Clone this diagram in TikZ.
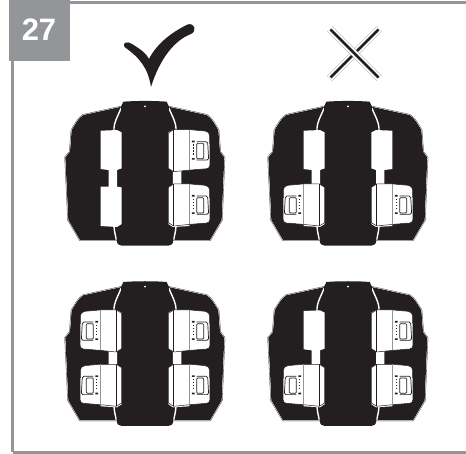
\documentclass[tikz,border=0pt]{standalone}
\usepackage{fontspec}
\setmainfont{Liberation Sans}
\definecolor{framegray}{HTML}{939598}
\definecolor{ink}{HTML}{231F20}
\tikzset{x=1pt,y=-1pt,
  zoomunits/.style={x=0.3333pt,y=-0.3333pt},
  shellline/.style={line join=round}
}
\newcommand{\devbody}{%
  \begin{scope}[zoomunits]
  \def\outl{(-70,18) -- (-185,43) .. controls (-200,55) .. (-220,88) -- (-225,153) -- (-239,170) -- (-230,358) -- (-195,418) -- (195,418) -- (230,358) -- (238,170) -- (225,153) -- (220,88) .. controls (200,55) .. (185,43) -- (70,18) -- cycle}
  \draw[ink,line width=1.7pt,shellline] \outl;
  \draw[white,line width=1.05pt,shellline] \outl;
  \fill[ink] \outl;
  \draw[white,line width=1.4pt] (-72,22) .. controls (-80,45) and (-95,65) .. (-93,92) (-93,376) .. controls (-92,395) and (-88,405) .. (-86,418);
  \draw[white,line width=1.4pt] (72,22) .. controls (80,45) and (95,65) .. (93,92) (93,376) .. controls (92,395) and (88,405) .. (86,418);
  \fill[ink] (-65,3) .. controls (-30,0) and (30,0) .. (65,3) -- (72,18) -- (70,40) -- (70,100) -- (85,418) .. controls (85,430) and (78,435) .. (70,435) -- (-70,435) .. controls (-78,435) and (-85,430) .. (-85,418) -- (-70,100) -- (-70,40) -- (-72,18) -- cycle;
  \fill[white] (0,17) circle (3);
  \end{scope}}
\newcommand{\slotpart}{%
  \begin{scope}[zoomunits]
  \fill[white] (70,95) -- (84,88) -- (133,90) -- (133,205) -- (109,208) -- (109,258) -- (133,258) -- (133,376) -- (84,379) -- (70,370) -- (70,260) -- (84,258) -- (84,208) -- (70,203) -- cycle;
  \end{scope}}
\newcommand{\batterypart}{%
  \begin{scope}[zoomunits]
  \fill[white,draw=ink,line width=0.5pt] (70,97) -- (86,87) -- (135,87) -- (180,91) .. controls (190,94) .. (194,105) -- (195,192) .. controls (192,202) .. (185,204) -- (135,208) -- (86,213) -- (70,203) -- cycle;
  \draw[ink,line width=0.7pt] (86,87) -- (86,213);
  \draw[framegray,line width=0.5pt] (134,87) -- (134,208);
  \fill[ink] (141,120) rectangle (149,125) (141,172) rectangle (149,177);
  \foreach \yy in {131,140,149,158}{\fill[ink] (143,\yy) rectangle (148,\yy+4);}
  \draw[ink,line width=0.7pt,rounded corners=1pt] (155,128) rectangle (176,174);
  \draw[ink,line width=0.7pt,rounded corners=1.5pt] (155,123) -- (188,123) -- (191,178) -- (155,178);
  \end{scope}}
% #1 = x, #2 = y, #3 = list of occupied bays as sx/sy
\newcommand{\device}[3]{%
  \begin{scope}[shift={(#1,#2)}]
  \devbody
  \slotpart
  \begin{scope}[xscale=-1]\slotpart\end{scope}
  \foreach \sx/\sy in {#3}{%
    \begin{scope}[xscale=\sx,shift={(0,\sy)}]\batterypart\end{scope}}
  \end{scope}}
\begin{document}
\begin{tikzpicture}
\useasboundingbox (0,0) rectangle (466,454);
\fill[white] (0,0) rectangle (466,454);
% frame
\draw[framegray,line width=3.3pt] (466,2.7) -- (12.5,2.7);
\draw[framegray,line width=2.5pt] (12.5,0) -- (12.5,452);
\draw[framegray,line width=3.3pt] (12.5,452.4) -- (466,452.4);
\fill[framegray] (9,0) rectangle (70,61);
\node[text=white,font=\fontsize{31}{31}\selectfont\bfseries,inner sep=0pt] (badge) at (39,30) {27};
% tick
\fill[ink] (124.5,47) .. controls (122,43) and (127,40.5) .. (132,44) .. controls (140,49) and (146,53) .. (149,59) .. controls (156,45) and (170,33) .. (188,24.3) .. controls (195,23) and (197,31) .. (191,34) .. controls (175,40) and (160,58) .. (151,87) .. controls (148,68) and (140,58) .. (124.5,47) -- cycle;
% cross
\begin{scope}[shift={(354.5,53.5)}]
\draw[framegray,line width=6.8pt] (-25,25) -- (25,-25);
\draw[white,line width=6.3pt] (-25,25) -- (25,-25);
\draw[ink,line width=2.8pt] (-24,24) -- (24,-24);
\draw[framegray,line width=6.8pt] (-25,-25) -- (25,25);
\draw[white,line width=6.3pt] (-26,-26) -- (26,26);
\draw[ink,line width=2.8pt] (-24,-24) -- (24,24);
\end{scope}
\device{145}{100.7}{1/0,1/54.3}
\device{348}{100.7}{-1/54.3,1/54.3}
\device{145}{281}{1/0,1/54.3,-1/0,-1/54.3}
\device{348}{281}{1/0,1/54.3,-1/54.3}
\end{tikzpicture}
\end{document}
